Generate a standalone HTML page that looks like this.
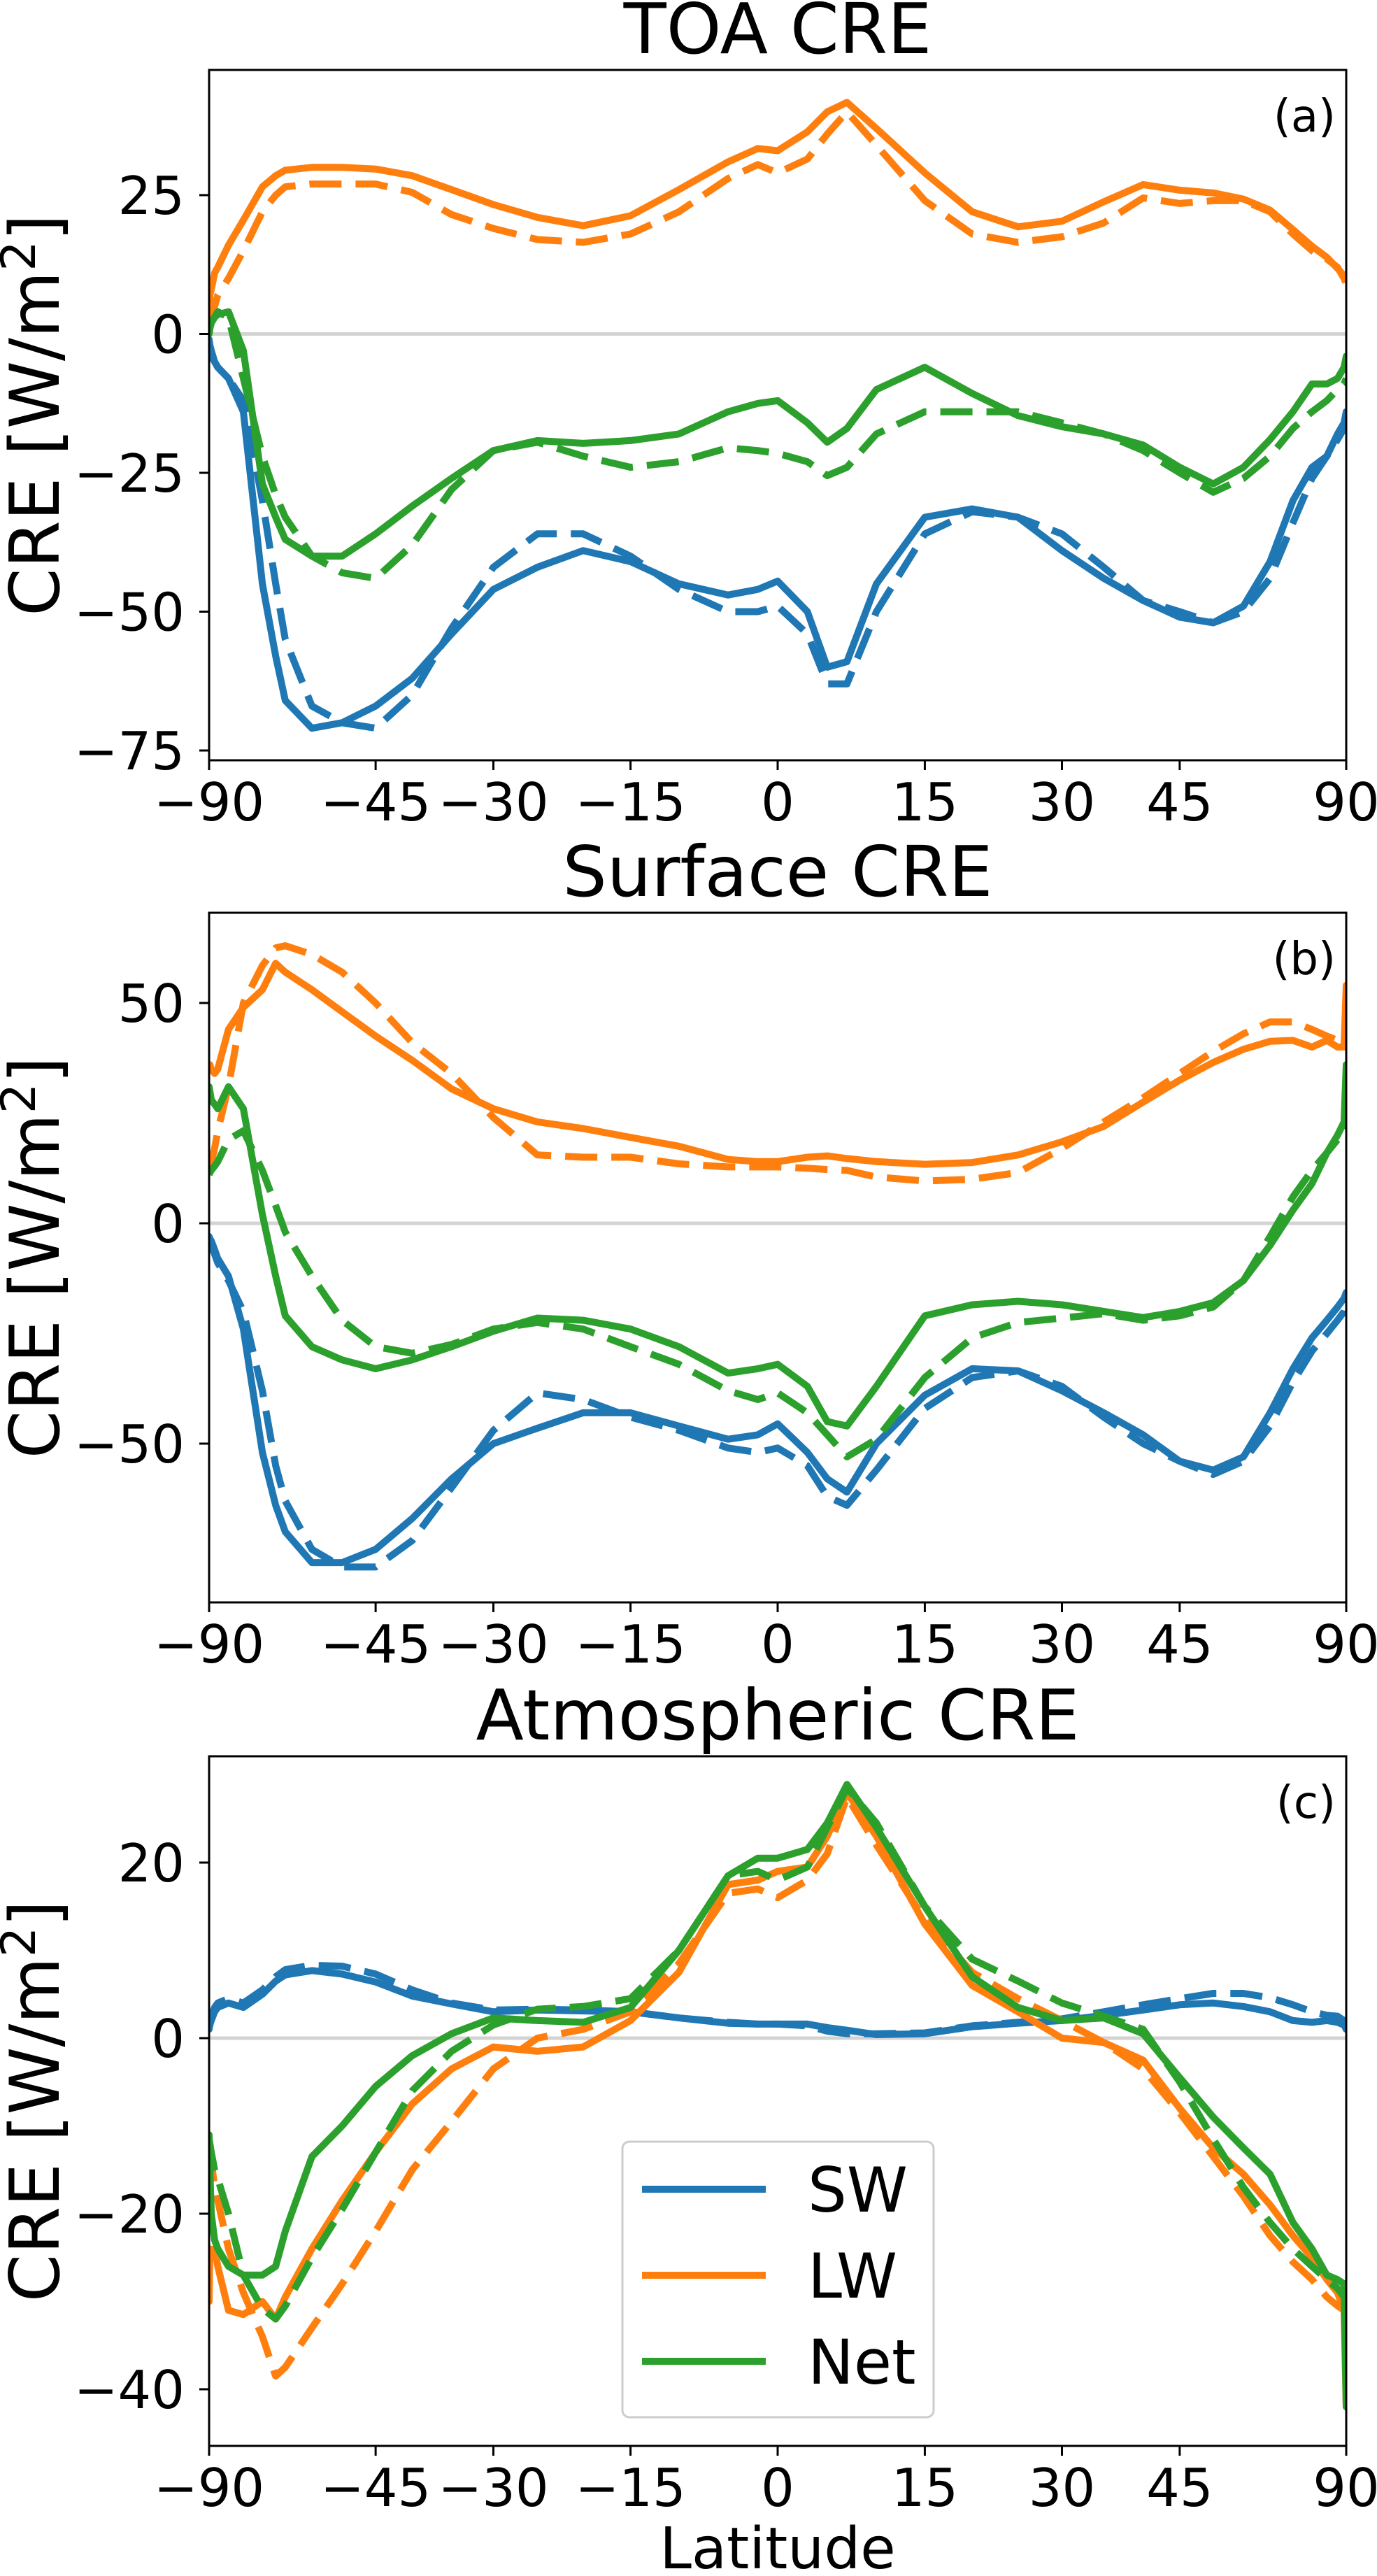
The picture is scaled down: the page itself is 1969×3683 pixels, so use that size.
<!DOCTYPE html>
<html><head><meta charset="utf-8"><style>
html,body{margin:0;padding:0;background:#fff;}
svg{display:block;font-family:"DejaVu Sans","Liberation Sans",sans-serif;}
</style></head><body>
<svg id="fig" width="1969" height="3683" viewBox="0 0 1969 3683" xmlns="http://www.w3.org/2000/svg"></svg>
<script>
const lats = [-90,-87,-85,-82,-80,-75,-70,-65,-62,-60,-55,-50,-45,-40,-35,-30,-25,-20,-15,-10,-5,-2,0,3,5,7,10,15,20,25,30,35,40,45,50,55,60,65,70,75,80,85,90];
const xTicks = [-90,-45,-30,-15,0,15,30,45,90];
const toaYTicks = [25,0,-25,-50,-75];
const sfcYTicks = [50,0,-50];
const atmYTicks = [20,0,-20,-40];
// TOA
const toaSwSolid = [-1,-2,-3,-5,-6,-8,-14,-45,-58,-66,-71,-70,-67,-62,-54,-46,-42,-39,-41,-45,-47,-46,-44.5,-50,-60,-59,-45,-33,-31.5,-33,-39,-44,-48,-51,-52,-49,-41,-30,-24,-22,-18,-16,-14];
const toaSwDash = [-2,-3,-4,-5,-6,-8,-12,-30,-45,-55,-67,-70,-71,-65,-53,-42,-36,-36,-40,-46,-50,-50,-49,-54,-63,-63,-50,-36,-32,-33,-36,-42,-48,-50,-52,-50,-44,-34,-26,-22,-19,-17,-15];
const toaLwSolid = [5,7,8,11,12,16,20.5,26.5,28.5,29.5,30,30,29.7,28.5,26,23.3,21,19.5,21.3,26,31,33.4,33,36.4,40,41.7,37,29,22,19.3,20.3,23.8,26.9,25.9,25.4,24.3,22.3,18.8,15.8,13.8,11.8,10.5,9.8];
const toaLwDash = [1.5,2,3,5,7,10,15,22,25,26.5,27,27,27,25.5,21.5,19,17,16.5,18,22,28,30.5,29,31.5,36,40,34,24,18,16.5,17.5,20,24.5,23.5,24,24,22,18,15,13.5,12,10,9];
const toaNetSolid = [0,1,2,3,3.5,4,-3,-27,-33,-37,-40,-40,-36,-31,-26,-21,-19.2,-19.7,-19.2,-18,-14,-12.5,-12,-16,-19.5,-17,-10,-6,-10.7,-14.7,-16.7,-18,-20,-24,-27,-24,-19,-14,-9,-9,-8,-6,-4];
const toaNetDash = [0,1,2,3,4,3,-8,-22,-29,-33,-40,-43,-44,-38,-28,-21,-19.5,-22,-24,-23,-20.5,-21,-21.5,-23,-25.5,-24,-18,-14,-14,-14,-16,-18,-21,-25,-28.5,-26,-22,-17,-14,-12,-10,-9,-8];
// Surface
const sfcSwSolid = [-3,-3.5,-4,-6,-8,-12,-24,-52,-64,-70,-77,-77,-74,-67,-58,-50,-46.5,-43,-43,-46,-49,-48,-45.5,-52,-58,-61,-50,-39,-33,-33.5,-38,-43,-48,-54,-56,-53,-43,-33,-26,-22,-19,-17,-15.7];
const sfcSwDash = [-3,-4,-5,-7,-9,-13,-20,-38,-55,-63,-74,-78,-78,-72,-60,-47,-38.5,-40,-44,-47,-51,-52,-51,-55,-62,-64,-56,-42,-35,-33.5,-37,-44,-50,-54,-57,-54,-46,-36,-29,-25,-22,-20,-18];
const sfcLwSolid = [36,36,35,34,35,44,49,53,59,57,53,48,42.5,37,30.5,26,23,21.5,19.5,17.5,14.5,14,14,15,15.3,14.7,14,13.4,13.8,15.5,18.5,22,27.5,32.5,36.5,39.5,41.3,41.5,40,41.5,40,40,54];
const sfcLwDash = [13,13,14,17,21,31,50,58.5,62.5,63,61,57,50,41,34,24,15.5,15,15,13.5,12.8,12.8,12.8,12.5,12.2,12,10.5,9.6,10,11.5,17,23,28.5,34,39,43,45.7,45.7,44,42.5,41.5,40,40];
const sfcNetSolid = [31,30,28,27,26,31,26,2,-12,-21,-28,-31,-33,-31,-28,-24.5,-21.5,-22,-24,-28,-34,-33,-32,-37,-45,-46,-37,-21,-18.5,-17.7,-18.5,-20,-21.4,-20,-18,-13,-5,3,9,16,20,23,36];
const sfcNetDash = [11,11.5,12,13,14,19,21,12,4,-2,-12,-22,-28,-29.5,-27.5,-24,-22.5,-24,-28,-32,-38,-40,-38.5,-43,-48,-53,-49,-35,-26,-22.5,-21.5,-20.5,-22,-21,-19,-13,-3,6,12,16,19,20,22];
// Atmospheric
const atmSwSolid = [1,1.5,2,3,3.5,4,3.5,5,6.5,7.2,7.7,7.3,6.4,4.8,3.9,3,3.2,3.1,3,2.3,1.7,1.6,1.6,1.6,1.2,0.9,0.4,0.5,1.3,1.7,2,2.6,3.2,3.8,4,3.6,3,2,1.8,2,1.8,1.5,1];
const atmSwDash = [1.5,2,2.5,3.5,4,4.5,4,5.5,7,7.8,8.3,8.2,7.3,5.5,4,3.2,3.3,3.2,3,2.3,1.8,1.6,1.6,1.4,0.8,0.5,0.5,0.6,1.4,1.8,2.2,3,3.8,4.5,5.1,5.1,4.6,3.8,3,2.6,2.5,2,1.5];
const atmLwSolid = [-30,-24,-25,-24,-26,-31,-31.5,-30,-32,-29.5,-24,-18.5,-13,-7.5,-3.5,-1,-1.5,-1,2,7.5,17.5,18,19,19.5,23,28,23,13,6,3,0,-0.5,-2.5,-8,-12.5,-15.5,-19,-22.5,-25,-27.5,-29,-31,-42];
const atmLwDash = [-12.7,-13,-14,-17,-18.5,-24,-29,-34,-38.5,-37.5,-33,-28,-22,-15,-9.5,-3.5,0,1,3,8.5,16.5,17,16,18,21,27.5,22,13.5,7.5,4.5,2,-0.5,-3.5,-8.5,-13.5,-18,-22.5,-25.5,-27.5,-29.5,-30.5,-31,-31];
const atmNetSolid = [-11,-15,-20,-23,-24,-26,-27,-27,-26,-22,-13.5,-10,-5.5,-2,0.5,2.3,2,1.8,3.5,10,18.5,20.5,20.5,21.5,24.5,28.9,24,15,7,3.5,2,2.3,0.5,-4.5,-9,-12.5,-15.5,-21,-24,-27,-27.5,-28,-42];
const atmNetDash = [-11.5,-12,-13,-15,-16,-20,-27,-30.8,-32,-30.5,-25,-19.5,-13,-6,-1.5,1.5,3.3,3.6,4.5,10,18.5,19,18,19.5,24,28.5,24.5,15,9,6.5,4,2.5,1,-5,-11.5,-17,-21,-24,-26,-27.5,-28.5,-29.5,-30];
const legendLabels = ['SW','LW','Net'];

const NS = 'http://www.w3.org/2000/svg';
const svg = document.getElementById('fig');
const C = {sw:'#1f77b4', lw:'#ff7f0e', net:'#2ca02c'};
const X0 = 299, X1 = 1925;
function xs(lat){ return (X0+X1)/2 + Math.sin(lat*Math.PI/180)*(X1-X0)/2; }
function mk(tag, attrs, parent){ const e = document.createElementNS(NS, tag); for (const k in attrs) e.setAttribute(k, attrs[k]); (parent||svg).appendChild(e); return e; }

function panel(cfg){
  const g = mk('g', {});
  
  
  const ys = v => cfg.zeroY - v*cfg.pxPer;
  const zl = mk('line', {x1:X0, x2:X1, y1:ys(0), y2:ys(0), stroke:'#d3d3d3', 'stroke-width':5}, g);
  
  
  const clipId = 'clip-' + cfg.name;
  const cp = mk('clipPath', {id:clipId}, g);
  mk('rect', {x:X0, y:cfg.top, width:X1-X0, height:cfg.bottom-cfg.top}, cp);
  const sg = mk('g', {'clip-path':'url(#'+clipId+')'}, g);
  cfg.series.forEach(s => {
    const d = lats.map((la,i) => (i?'L':'M') + xs(la).toFixed(1) + ',' + ys(s.vals[i]).toFixed(1)).join(' ');
    const p = mk('path', {d:d, fill:'none', stroke:C[s.c], 'stroke-width':10, 'stroke-linejoin':'round'}, sg);
    if (s.dash) p.setAttribute('stroke-dasharray', '46 20'); else p.setAttribute('stroke-linecap','round');
    
    
  });
  const fr = mk('rect', {x:X0, y:cfg.top, width:X1-X0, height:cfg.bottom-cfg.top, fill:'none', stroke:'#000', 'stroke-width':3}, g);
  
  
  xTicks.forEach(t => {
    const x = xs(t);
    mk('line', {x1:x, x2:x, y1:cfg.bottom, y2:cfg.bottom+14, stroke:'#000', 'stroke-width':3}, g);
    const tx = mk('text', {x:x, y:cfg.bottom+86, 'font-size':75, 'text-anchor':'middle'}, g);
    tx.textContent = t < 0 ? '\u2212' + Math.abs(t) : String(t);
    
    
  });
  cfg.yTicks.forEach(t => {
    const y = ys(t);
    mk('line', {x1:X0-14, x2:X0, y1:y, y2:y, stroke:'#000', 'stroke-width':3}, g);
    const tx = mk('text', {x:264, y:y+27, 'font-size':75, 'text-anchor':'end'}, g);
    tx.textContent = t < 0 ? '\u2212' + Math.abs(t) : String(t);
    
    
  });
  const ttl = mk('text', {x:(X0+X1)/2, y:cfg.top-24, 'font-size':100, 'text-anchor':'middle'}, g);
  ttl.textContent = cfg.title;
  
  
  const lt = mk('text', {x:1910, y:cfg.top+88, 'font-size':64, 'text-anchor':'end'}, g);
  lt.textContent = cfg.letter;
  
  
  const cy = (cfg.top+cfg.bottom)/2;
  const yl = mk('text', {x:0, y:0, 'font-size':98, 'text-anchor':'middle', transform:'translate(84,'+cy+') rotate(-90)'}, g);
  yl.innerHTML = 'CRE [W/m<tspan dy="-34" font-size="68">2</tspan><tspan dy="34">]</tspan>';
  
  
}

panel({name:'toa-panel', title:'TOA CRE', letter:'(a)', top:100, bottom:1087, zeroY:477.5, pxPer:7.94, yTicks:toaYTicks,
  series:[{c:'sw',vals:toaSwSolid,name:'toa-sw-solid'},{c:'sw',vals:toaSwDash,dash:1,name:'toa-sw-dashed'},
          {c:'lw',vals:toaLwSolid,name:'toa-lw-solid'},{c:'lw',vals:toaLwDash,dash:1,name:'toa-lw-dashed'},
          {c:'net',vals:toaNetSolid,name:'toa-net-solid'},{c:'net',vals:toaNetDash,dash:1,name:'toa-net-dashed'}]});
panel({name:'surface-panel', title:'Surface CRE', letter:'(b)', top:1305, bottom:2291, zeroY:1749, pxPer:6.3, yTicks:sfcYTicks,
  series:[{c:'sw',vals:sfcSwSolid,name:'sfc-sw-solid'},{c:'sw',vals:sfcSwDash,dash:1,name:'sfc-sw-dashed'},
          {c:'lw',vals:sfcLwSolid,name:'sfc-lw-solid'},{c:'lw',vals:sfcLwDash,dash:1,name:'sfc-lw-dashed'},
          {c:'net',vals:sfcNetSolid,name:'sfc-net-solid'},{c:'net',vals:sfcNetDash,dash:1,name:'sfc-net-dashed'}]});
panel({name:'atmos-panel', title:'Atmospheric CRE', letter:'(c)', top:2511, bottom:3497, zeroY:2914, pxPer:12.55, yTicks:atmYTicks,
  series:[{c:'sw',vals:atmSwSolid,name:'atm-sw-solid'},{c:'sw',vals:atmSwDash,dash:1,name:'atm-sw-dashed'},
          {c:'lw',vals:atmLwSolid,name:'atm-lw-solid'},{c:'lw',vals:atmLwDash,dash:1,name:'atm-lw-dashed'},
          {c:'net',vals:atmNetSolid,name:'atm-net-solid'},{c:'net',vals:atmNetDash,dash:1,name:'atm-net-dashed'}]});

const xl = mk('text', {x:1112, y:3672, 'font-size':82, 'text-anchor':'middle'});
xl.textContent = 'Latitude';



const lg = mk('g', {});


mk('rect', {x:890, y:3062, width:445, height:394, rx:10, fill:'#fff', 'fill-opacity':0.8, stroke:'#cccccc', 'stroke-width':3}, lg);
['sw','lw','net'].forEach((k,i) => {
  const y = 3130 + i*123;
  const ln = mk('line', {x1:918, x2:1095, y1:y, y2:y, stroke:C[k], 'stroke-width':10}, lg);
  
  
  const t = mk('text', {x:1155, y:y+32, 'font-size':88}, lg);
  t.textContent = legendLabels[i];
  
  
});
</script>
</body></html>
